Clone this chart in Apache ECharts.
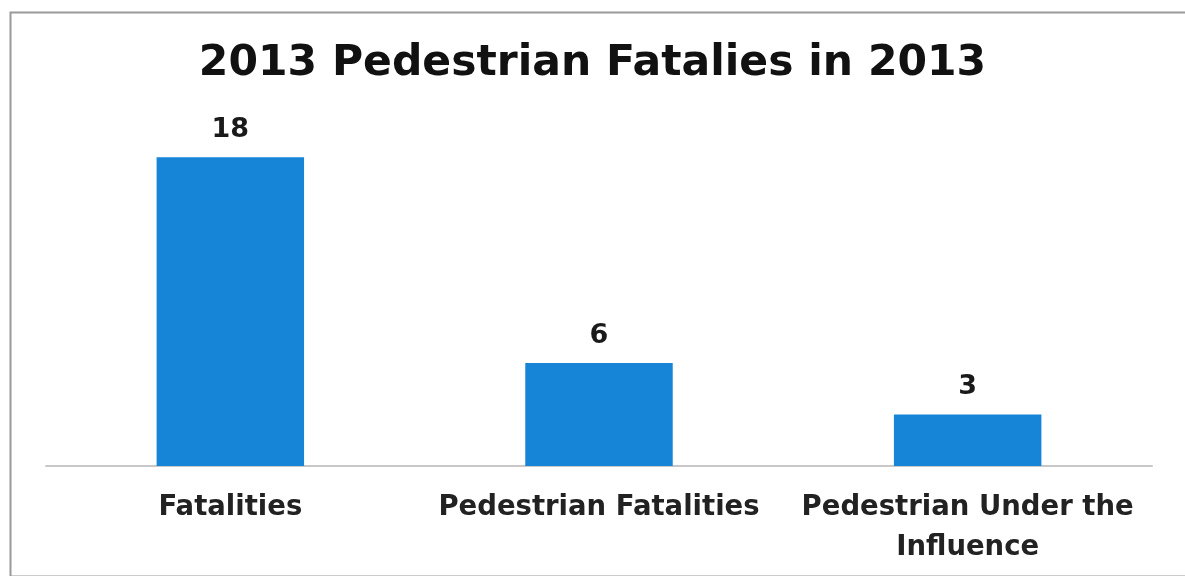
<!DOCTYPE html>
<html><head><meta charset="utf-8">
<script src="https://cdn.jsdelivr.net/npm/echarts@6/dist/echarts.min.js"></script>
<style>html,body{margin:0;padding:0;background:#fff}#c{width:1185px;height:576px}</style>
</head><body><div id="c"></div>
<script>
const titleText = '2013 Pedestrian Fatalies in 2013';
const categories = ['Fatalities', 'Pedestrian Fatalities', 'Pedestrian Under the\nInfluence'];
const values = [18, 6, 3];

const F = 'DejaVu Sans';
const chart = echarts.init(document.getElementById('c'), null, {renderer: 'canvas'});
chart.setOption({
  backgroundColor: '#fff',
  animation: false,
  title: {
    text: titleText, left: 'center', top: 37,
    textStyle: {fontFamily: F, fontWeight: 'bold', fontSize: 42.5, color: '#111'}
  },
  graphic: [{
    type: 'rect', left: 8, top: 10,
    shape: {width: 1185, height: 564},
    style: {fill: 'none', stroke: '#9a9a9a', lineWidth: 2}
  }],
  grid: {left: 46, right: 33, top: 123, bottom: 110},
  xAxis: {
    type: 'category', data: categories,
    axisLine: {lineStyle: {color: '#c8c8c8', width: 2}},
    axisTick: {show: false},
    axisLabel: {
      fontFamily: F, fontWeight: 'bold', fontSize: 27.5, color: '#222',
      margin: 22, lineHeight: 40, interval: 0
    }
  },
  yAxis: {type: 'value', min: 0, max: 20, show: false, splitLine: {show: false}},
  series: [{
    type: 'bar', data: values, barWidth: '40%',
    itemStyle: {color: '#1685d8'},
    label: {
      show: true, position: 'top', distance: 14,
      fontFamily: F, fontWeight: 'bold', fontSize: 27, color: '#1a1a1a'
    }
  }]
});
</script></body></html>
